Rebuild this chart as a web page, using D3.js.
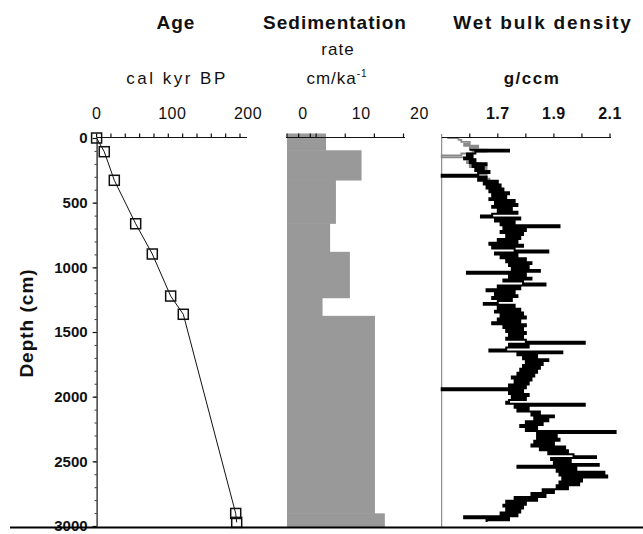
<!DOCTYPE html>
<html>
<head>
<meta charset="utf-8">
<script src="https://cdn.jsdelivr.net/npm/d3@7"></script>
<style>
  html, body { margin: 0; padding: 0; background: #fff; }
  svg { display: block; font-family: "Liberation Sans", Arial, sans-serif; }
</style>
</head>
<body>
<svg id="chart" width="643" height="534"></svg>
<script>
// ---------- DATA ----------
// Age model: depth (cm) vs age (cal kyr BP)
const ageDepths = [0, 106, 327, 663, 897, 1222, 1363, 2903, 2972];
const ageValues = [0, 10.7, 24.7, 54.5, 77.7, 103.3, 120.9, 194, 195.4];

// Sedimentation rate (cm/ka): interval boundaries (cm) and rates
const sedBoundaries = [-35, 95, 325, 660, 880, 1235, 1375, 2902, 3005];
const sedRates = [6.7, 12.8, 8.4, 7.4, 10.8, 6.1, 15.1, 16.8];

// Wet bulk density (g/ccm), sampled every 15 cm
const densityStart = 90;      // cm
const densityStep = 15;       // cm
const densityBlack = [
  1.60,1.74,1.62,1.59,1.61,1.58,1.62,1.60,1.66,1.61,1.65,1.62,1.67,1.63,1.50,1.66,1.63,
  1.70,1.65,1.71,1.66,1.72,1.67,1.74,1.68,1.73,1.67,1.76,1.69,1.77,1.68,1.75,1.70,1.77,
  1.68,1.64,1.78,1.69,1.76,1.71,1.92,1.72,1.80,1.71,1.79,1.73,1.78,1.70,1.77,1.67,1.79,
  1.68,1.76,1.88,1.69,1.77,1.71,1.80,1.73,1.82,1.74,1.81,1.75,1.85,1.59,1.80,1.74,1.82,
  1.72,1.79,1.87,1.70,1.78,1.66,1.76,1.69,1.77,1.68,1.75,1.70,1.65,1.76,1.70,1.78,1.69,
  1.79,1.71,1.80,1.70,1.78,1.68,1.80,1.72,1.79,1.73,1.80,1.74,1.79,1.73,1.80,2.01,1.74,
  1.81,1.73,1.67,1.93,1.77,1.84,1.79,1.88,1.80,1.86,1.79,1.85,1.78,1.84,1.77,1.83,1.75,
  1.82,1.76,1.81,1.74,1.80,1.50,1.79,1.74,1.81,1.75,1.80,1.74,1.73,2.01,1.76,1.81,1.77,
  1.85,1.82,1.90,1.83,1.88,1.80,1.86,1.78,1.84,1.80,2.12,1.84,1.91,1.84,1.92,1.83,1.90,
  1.82,1.94,1.85,1.95,1.88,1.97,2.05,1.89,1.96,1.90,2.06,1.77,1.98,1.91,2.08,1.92,2.09,
  1.93,2.00,1.92,1.99,1.91,1.95,1.86,1.90,1.82,1.87,1.76,1.84,1.73,1.80,1.72,1.79,1.73,
  1.78,1.71,1.77,1.58,1.74,1.66
];
const densityGrayStart = 0;
const densityGray = [
  1.52,1.56,1.57,1.60,1.58,1.63,1.60,1.66,1.61,1.57,1.50,1.58,1.62,1.59,1.64,1.60,1.66,
  1.62,1.67,1.63,1.66,1.64,1.67
];

// Axis ticks and labels
const depthTicks = [0, 500, 1000, 1500, 2000, 2500, 3000];
const depthMinorTicks = d3.range(0, 3001, 100);
const ageTicks = d3.range(0, 201, 20);
const ageLabels = [0, 100, 200];
const sedTicks = [0, 2, 4, 5, 10, 15, 20];
const sedLabels = [0, 10, 20];
const densTicks = [1.6, 1.7, 1.8, 1.9, 2.0, 2.1];
const densLabels = [1.7, 1.9, 2.1];

// ---------- CHART ----------
const svg = d3.select("#chart");
const y = d3.scaleLinear().domain([0, 3000]).range([138, 526]);
const xAge = d3.scaleLinear().domain([0, 200]).range([96.6, 240]);
const xSed = d3.scaleLinear().domain([0, 20]).range([287, 403.5]);
const xDen = d3.scaleLinear().domain([1.5, 2.1]).range([441.7, 610]);

const axisY = 137.5;

// Titles
const titles = [
  {t: "Age", x: 176, y: 29, w: "bold", s: 19, ls: 1},
  {t: "Sedimentation", x: 335, y: 29, w: "bold", s: 19, ls: 1},
  {t: "Wet bulk density", x: 543, y: 29, w: "bold", s: 19, ls: 1.8},
  {t: "rate", x: 338, y: 55, w: "normal", s: 17, ls: 1},
  {t: "cal kyr BP", x: 177, y: 84, w: "normal", s: 17, ls: 2.5},
  {t: "g/ccm", x: 532, y: 84, w: "bold", s: 17, ls: 1.5}
];
svg.selectAll("text.title").data(titles).enter().append("text")
  .attr("class", "title")
  .attr("x", d => d.x).attr("y", d => d.y)
  .attr("text-anchor", "middle")
  .attr("font-size", d => d.s)
  .attr("letter-spacing", d => d.ls)
  .attr("font-weight", d => d.w)
  .attr("fill", "#111")
  .text(d => d.t);
const unitSed = svg.append("text").attr("x", 337).attr("y", 84)
  .attr("text-anchor", "middle").attr("font-size", 17).attr("letter-spacing", 1).attr("fill", "#111");
unitSed.append("tspan").text("cm/ka");
unitSed.append("tspan").attr("font-size", 10).attr("dy", -7).text("-1");

// Sedimentation bars
const sedData = sedRates.map((r, i) => ({top: sedBoundaries[i], bot: sedBoundaries[i + 1], r}));
svg.append("g").selectAll("rect").data(sedData).enter().append("rect")
  .attr("x", xSed(0))
  .attr("y", d => y(d.top))
  .attr("width", d => xSed(d.r) - xSed(0))
  .attr("height", d => y(d.bot) - y(d.top) + 0.5)
  .attr("fill", "#999");

// Density vertical axis line
svg.append("line")
  .attr("x1", xDen(1.5)).attr("x2", xDen(1.5))
  .attr("y1", 134).attr("y2", 527)
  .attr("stroke", "#777").attr("stroke-width", 1);

// Density traces (piecewise, horizontal excursions like the logged profile)
const lineDen = d3.line().curve(d3.curveStepAfter);
const grayPts = densityGray.map((v, i) => [xDen(v), y(densityGrayStart + i * densityStep)]);
const blackPts = densityBlack.map((v, i) => [xDen(v), y(densityStart + i * densityStep)]);
svg.append("path").attr("d", lineDen(grayPts))
  .attr("fill", "none").attr("stroke", "#8a8a8a").attr("stroke-width", 1.8);
svg.append("path").attr("d", lineDen(blackPts))
  .attr("fill", "none").attr("stroke", "#000").attr("stroke-width", 2);

// Top axes
function topAxis(scale, ticks, x0, x1) {
  const g = svg.append("g").attr("transform", `translate(0,${axisY})`);
  g.append("line").attr("x1", x0).attr("x2", x1).attr("y1", 0).attr("y2", 0)
    .attr("stroke", "#111").attr("stroke-width", 1.2);
  g.selectAll("line.tk").data(ticks).enter().append("line")
    .attr("class", "tk")
    .attr("x1", d => scale(d)).attr("x2", d => scale(d))
    .attr("y1", 0).attr("y2", -4)
    .attr("stroke", "#111").attr("stroke-width", 1.2);
}
topAxis(xAge, ageTicks, xAge(0), 247);
topAxis(xSed, sedTicks, xSed(0) - 1, 405);
topAxis(xDen, densTicks, xDen(1.5), 611);

function topLabels(scale, labels, dx, weight, fmt) {
  svg.append("g").selectAll("text").data(labels).enter().append("text")
    .attr("x", (d, i) => scale(d) + dx(i)).attr("y", 119)
    .attr("text-anchor", "middle").attr("font-size", 16)
    .attr("letter-spacing", 0.5)
    .attr("font-weight", weight).attr("fill", "#111")
    .text(fmt);
}
topLabels(xAge, ageLabels, i => i * 4, "normal", d => d);
topLabels(xSed, sedLabels, () => 16, "normal", d => d);
topLabels(xDen, densLabels, () => 0, "bold", d => d.toFixed(1));

// Depth axis
const gy = svg.append("g").attr("transform", `translate(${xAge(0)},0)`);
gy.call(d3.axisLeft(y).tickValues(depthMinorTicks).tickSize(2).tickFormat(""))
  .call(g => g.select(".domain").remove())
  .call(g => g.selectAll("line").attr("stroke", "#333"));
const gy2 = svg.append("g").attr("transform", `translate(${xAge(0)},0)`);
gy2.call(d3.axisLeft(y).tickValues(depthTicks).tickSize(4).tickPadding(5)
          .tickSizeOuter(0).tickFormat(d3.format("d")))
  .call(g => g.select(".domain").attr("stroke", "#111").attr("stroke-width", 1.2))
  .call(g => g.selectAll("line").attr("stroke", "#111").attr("stroke-width", 1.2))
  .call(g => g.selectAll("text")
    .attr("font-size", 15).attr("font-weight", "bold").attr("fill", "#111")
    .attr("font-family", "Liberation Sans, Arial, sans-serif"));

svg.append("text")
  .attr("transform", "translate(33,323) rotate(-90)")
  .attr("text-anchor", "middle")
  .attr("font-size", 19).attr("font-weight", "bold").attr("fill", "#111")
  .attr("letter-spacing", 1)
  .text("Depth (cm)");

// Age model line and markers
const ageData = ageDepths.map((d, i) => ({d, a: ageValues[i]}));
svg.append("path")
  .attr("d", d3.line().x(p => xAge(p.a)).y(p => y(p.d))(ageData))
  .attr("fill", "none").attr("stroke", "#111").attr("stroke-width", 1);
svg.append("g").selectAll("rect").data(ageData).enter().append("rect")
  .attr("x", p => xAge(p.a) - 5).attr("y", p => y(p.d) - 5)
  .attr("width", 10).attr("height", 10)
  .attr("fill", "none").attr("stroke", "#111").attr("stroke-width", 1.5);

// Bottom frame line
svg.append("line").attr("x1", 10).attr("x2", 643).attr("y1", 527.5).attr("y2", 527.5)
  .attr("stroke", "#000").attr("stroke-width", 2);
</script>
</body>
</html>
